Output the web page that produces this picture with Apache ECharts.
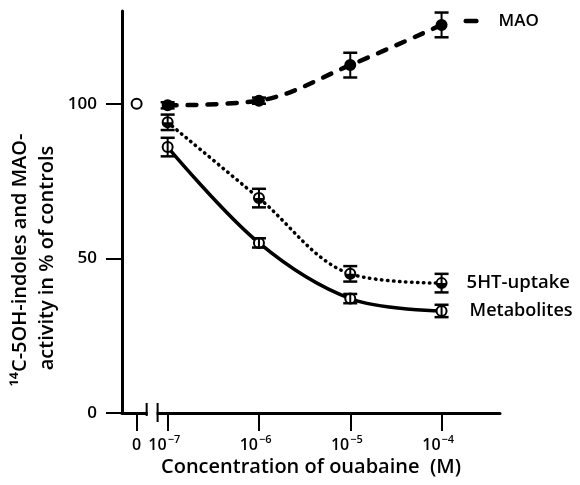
<!DOCTYPE html>
<html>
<head>
<meta charset="utf-8">
<script src="https://cdn.jsdelivr.net/npm/echarts@6/dist/echarts.min.js"></script>
<style>
  html, body { margin: 0; padding: 0; background: #fff; }
  #chart { width: 580px; height: 485px; }
</style>
</head>
<body>
<div id="chart"></div>
<script>
// Concentration exponents (log10 M)
const concExp = [-7, -6, -5, -4];
// MAO activity (% of controls)
const maoValues = [99.5, 101, 112.5, 125.5];
const maoErr = [1, 1, 4, 4];
// 5HT-uptake (% of controls)
const uptakeValues = [94, 69.5, 45, 42];
const uptakeErr = [2.5, 3, 2.5, 3];
// Metabolites (% of controls)
const metabValues = [86, 55, 37, 33];
const metabErr = [3, 1.5, 1.5, 2];
// Control value at concentration 0
const controlValue = 100;
// Tick labels (base | exponent)
const yTicks = [0, 50, 100];
const xTickLabels = ['0', '10|−7', '10|−6', '10|−5', '10|−4'];

const ZERO_POS = -7.34; // axis position of the "0" concentration (break)
const xTickPos = [ZERO_POS].concat(concExp);
const FONT = '"Open Sans", "DejaVu Sans", sans-serif';

function pairs(xs, ys, es) {
  return xs.map((x, i) => [x, ys[i], es ? es[i] : 0]);
}

function markerSeries(name, values, errs, fill) {
  return {
    type: 'custom',
    name: name + '-markers',
    z: 5,
    data: pairs(concExp, values, errs),
    renderItem: function (params, api) {
      const x = api.value(0), v = api.value(1), e = api.value(2);
      const c = api.coord([x, v]);
      const top = api.coord([x, v + e]);
      const bot = api.coord([x, v - e]);
      const r = 5, cap = 7;
      const children = [];
      children.push({ type: 'circle', shape: { cx: c[0], cy: c[1], r: r },
        style: { fill: fill === 'full' ? '#000' : '#fff', stroke: '#000', lineWidth: 2 } });
      if (fill === 'half') {
        children.push({ type: 'sector', shape: { cx: c[0], cy: c[1], r: r, r0: 0, startAngle: 0, endAngle: Math.PI },
          style: { fill: '#000' } });
      }
      if (e > 0) {
        children.push({ type: 'line', shape: { x1: top[0], y1: top[1], x2: bot[0], y2: bot[1] }, style: { stroke: '#000', lineWidth: 2 } });
        children.push({ type: 'line', shape: { x1: top[0] - cap, y1: top[1], x2: top[0] + cap, y2: top[1] }, style: { stroke: '#000', lineWidth: 2.5 } });
        children.push({ type: 'line', shape: { x1: bot[0] - cap, y1: bot[1], x2: bot[0] + cap, y2: bot[1] }, style: { stroke: '#000', lineWidth: 2.5 } });
      }
      return { type: 'group', children: children };
    }
  };
}

const chart = echarts.init(document.getElementById('chart'), null, { renderer: 'canvas' });

const option = {
  backgroundColor: '#fff',
  animation: false,
  grid: { left: 122, right: 80, top: 11, bottom: 72, containLabel: false, outerBoundsMode: 'none' },
  xAxis: {
    type: 'value',
    min: -7.5,
    max: -3.36,
    splitLine: { show: false },
    axisLine: { onZero: false, lineStyle: { color: '#000', width: 3 } },
    axisTick: { customValues: xTickPos, length: 18, lineStyle: { color: '#000', width: 2 } },
    axisLabel: { show: false },
    name: 'Concentration of ouabaine  (M)',
    nameLocation: 'middle',
    nameGap: 44,
    nameTextStyle: { color: '#000', fontFamily: FONT, fontWeight: 600, fontSize: 20 }
  },
  yAxis: {
    type: 'value',
    min: 0,
    max: 130,
    splitLine: { show: false },
    axisLine: { lineStyle: { color: '#000', width: 3 } },
    axisTick: { customValues: yTicks, length: 16, lineStyle: { color: '#000', width: 2 } },
    axisLabel: {
      customValues: yTicks,
      margin: 25,
      color: '#000',
      fontFamily: FONT,
      fontWeight: 600,
      fontSize: 17
    }
  },
  series: [
    {
      type: 'line', name: 'MAO', smooth: 0.35, showSymbol: false, z: 3,
      data: pairs(concExp, maoValues).map(p => [p[0], p[1]]),
      lineStyle: { color: '#000', width: 4.5, type: [9, 11], cap: 'round' },
      endLabel: {
        show: true, distance: 22, offset: [0, -4],
        formatter: '{bar|}{txt|MAO}',
        rich: {
          bar: { width: 15, height: 4.5, backgroundColor: '#000', borderRadius: 2 },
          txt: { padding: [0, 0, 0, 20], color: '#000', fontFamily: FONT, fontWeight: 600, fontSize: 17 }
        }
      }
    },
    {
      type: 'line', name: '5HT-uptake', smooth: 0.35, showSymbol: false, z: 3,
      data: pairs(concExp, uptakeValues).map(p => [p[0], p[1]]),
      lineStyle: { color: '#000', width: 3.5, type: [0.5, 5.5], cap: 'round' },
      endLabel: {
        show: true, distance: 25, offset: [0, 0],
        formatter: '5HT-uptake',
        color: '#000', fontFamily: FONT, fontWeight: 600, fontSize: 18.5
      }
    },
    {
      type: 'line', name: 'Metabolites', smooth: 0.35, showSymbol: false, z: 3,
      data: pairs(concExp, metabValues).map(p => [p[0], p[1]]),
      lineStyle: { color: '#000', width: 3.5 },
      endLabel: {
        show: true, distance: 28, offset: [0, 0],
        formatter: 'Metabolites',
        color: '#000', fontFamily: FONT, fontWeight: 600, fontSize: 18
      }
    },
    markerSeries('MAO', maoValues, maoErr, 'full'),
    markerSeries('5HT-uptake', uptakeValues, uptakeErr, 'half'),
    markerSeries('Metabolites', metabValues, metabErr, 'open'),
    {
      type: 'custom', name: 'control', z: 5,
      data: [[ZERO_POS, controlValue]],
      renderItem: function (params, api) {
        const c = api.coord([api.value(0), api.value(1)]);
        return { type: 'circle', shape: { cx: c[0], cy: c[1], r: 5 }, style: { fill: '#fff', stroke: '#000', lineWidth: 2 } };
      }
    }
  ],
  graphic: []
};

chart.setOption(option);

// Axis break marks, X tick labels (placed from the axis scale) and Y axis title
const graphics = [];
const b1 = chart.convertToPixel({ gridIndex: 0 }, [-7.23, 0]);
const b2 = chart.convertToPixel({ gridIndex: 0 }, [-7.11, 0]);
graphics.push(
  { type: 'rect', shape: { x: b1[0] + 1, y: b1[1] - 3, width: b2[0] - b1[0] - 2, height: 6 }, style: { fill: '#fff' }, z: 10 },
  { type: 'line', shape: { x1: b1[0], y1: b1[1] - 10, x2: b1[0], y2: b1[1] + 3 }, style: { stroke: '#000', lineWidth: 2 }, z: 11 },
  { type: 'line', shape: { x1: b2[0], y1: b2[1] - 10, x2: b2[0], y2: b2[1] + 9 }, style: { stroke: '#000', lineWidth: 2 }, z: 11 }
);
xTickPos.forEach(function (pos, i) {
  const p = chart.convertToPixel({ gridIndex: 0 }, [pos, 0]);
  const parts = xTickLabels[i].split('|');
  const baseY = p[1] + 32;
  if (parts.length === 1) {
    graphics.push({ type: 'text', x: p[0], y: baseY, z: 11,
      style: { text: parts[0], fill: '#000', font: '600 16px ' + FONT, textAlign: 'center', textVerticalAlign: 'middle' } });
  } else {
    graphics.push({ type: 'text', x: p[0] - 1, y: baseY, z: 11,
      style: { text: parts[0], fill: '#000', font: '600 16px ' + FONT, textAlign: 'right', textVerticalAlign: 'middle' } });
    graphics.push({ type: 'text', x: p[0], y: baseY - 5, z: 11,
      style: { text: parts[1], fill: '#000', font: '600 11px ' + FONT, textAlign: 'left', textVerticalAlign: 'middle' } });
  }
});
graphics.push(
  { type: 'text', x: 20, y: 260, rotation: Math.PI / 2, z: 11,
    style: { text: '¹⁴C-5OH-indoles and MAO-', fill: '#000', font: '600 20px ' + FONT, textAlign: 'center', textVerticalAlign: 'middle' } },
  { type: 'text', x: 47, y: 258, rotation: Math.PI / 2, z: 11,
    style: { text: 'activity in % of controls', fill: '#000', font: '600 20px ' + FONT, textAlign: 'center', textVerticalAlign: 'middle' } }
);
chart.setOption({ graphic: graphics });
</script>
</body>
</html>
